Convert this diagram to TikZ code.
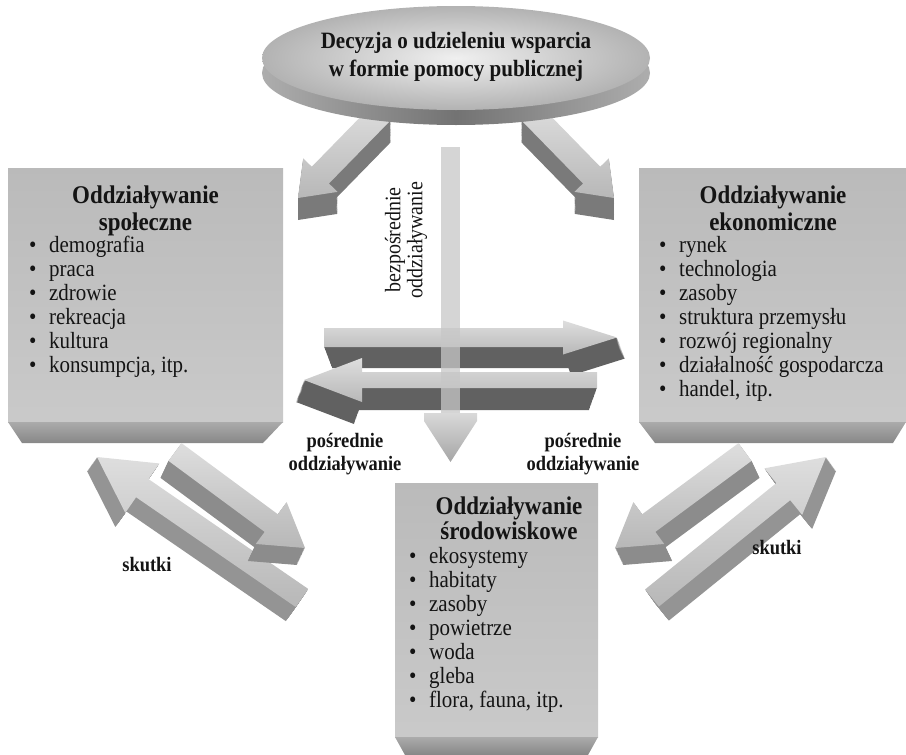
\documentclass[tikz,border=0pt]{standalone}
\usepackage{fontspec}
\setmainfont[FakeStretch=0.9]{Liberation Serif}
\usetikzlibrary{calc}
\definecolor{ink}{gray}{0.08}
\tikzset{
  ttl/.style={font=\fontsize{25.5}{30}\selectfont\bfseries, text=ink, inner sep=0pt, anchor=base},
  toptxt/.style={font=\fontsize{23.4}{29}\selectfont\bfseries, text=ink, inner sep=0pt, anchor=base},
  itm/.style={font=\fontsize{23.3}{26}\selectfont, text=ink, inner sep=0pt, anchor=base west},
  lbl/.style={font=\fontsize{20.5}{24}\selectfont\bfseries, text=ink, inner sep=0pt, anchor=base},
  face/.style={top color=black!27, middle color=black!9, bottom color=black!21},
  bevel/.style={top color=black!33, bottom color=black!47},
  atop/.style={top color=black!13, bottom color=black!28},
}
\newcommand{\bul}{\makebox[20pt][l]{•}}
% #1 name, #2 tail, #3 tip, #4 shaft half width, #5 head half width, #6 head length, #7 ex, #8 ey, #9 side colour
\newcommand{\blockarr}[9]{%
  \coordinate (#1T) at #2;
  \coordinate (#1P) at #3;
  \coordinate (#1H) at ($(#1P)!#6pt!(#1T)$);
  \coordinate (#1a) at ($(#1T)!#4pt!90:(#1P)$);
  \coordinate (#1b) at ($(#1H)!#4pt!90:(#1P)$);
  \coordinate (#1c) at ($(#1H)!#5pt!90:(#1P)$);
  \coordinate (#1d) at ($(#1H)!#5pt!-90:(#1P)$);
  \coordinate (#1e) at ($(#1H)!#4pt!-90:(#1P)$);
  \coordinate (#1f) at ($(#1T)!#4pt!-90:(#1P)$);
  \foreach \k in {1,...,20}{%
    \fill[#9] ($(#1a)+({#7*\k/20},{#8*\k/20})$) -- ($(#1b)+({#7*\k/20},{#8*\k/20})$)
      -- ($(#1c)+({#7*\k/20},{#8*\k/20})$) -- ($(#1P)+({#7*\k/20},{#8*\k/20})$)
      -- ($(#1d)+({#7*\k/20},{#8*\k/20})$) -- ($(#1e)+({#7*\k/20},{#8*\k/20})$)
      -- ($(#1f)+({#7*\k/20},{#8*\k/20})$) -- cycle;
  }%
  \shade[atop] (#1a) -- (#1b) -- (#1c) -- (#1P) -- (#1d) -- (#1e) -- (#1f) -- cycle;
}
\begin{document}
\begin{tikzpicture}[x=1pt,y=-1pt]
\useasboundingbox (0,0) rectangle (906,755);

% top diagonal arrows (under the ellipse)
\blockarr{tl}{(382,112)}{(298,198)}{12}{24}{32}{0}{22}{black!52}
\blockarr{tr}{(530,112)}{(614,198)}{12}{24}{32}{0}{22}{black!52}

% ellipse
\shade[left color=black!32, right color=black!32, middle color=black!55] (456,73) ellipse [x radius=194, y radius=52];
\shade[inner color=black!6, outer color=black!30] (456,58) ellipse [x radius=194, y radius=52];
\node[toptxt] (dec1) at (456,48) {Decyzja o udzieleniu wsparcia};
\node[toptxt] (dec2) at (456,76) {w formie pomocy publicznej};

% left box
\shade[face] (8,168) rectangle (283,422);
\shade[bevel] (8,422) -- (283,422) -- (263,443) -- (22,443) -- cycle;
\node[ttl] (st1) at (145.5,203) {Oddziaływanie};
\node[ttl] (st2) at (145.5,230) {społeczne};
\foreach \t [count=\i] in {demografia, praca, zdrowie, rekreacja, kultura, {konsumpcja, itp.}}
  \node[itm] (s\i) at (29,{252+24*(\i-1)}) {\bul\t};

% right box
\shade[face] (639,168) rectangle (906,422);
\shade[bevel] (639,422) -- (906,422) -- (893,443) -- (655,443) -- cycle;
\node[ttl] (et1) at (773,203) {Oddziaływanie};
\node[ttl] (et2) at (773,230) {ekonomiczne};
\foreach \t [count=\i] in {rynek, technologia, zasoby, struktura przemysłu, rozwój regionalny, działalność gospodarcza, {handel, itp.}}
  \node[itm] (e\i) at (659,{252+24*(\i-1)}) {\bul\t};

% bottom box
\shade[face] (395,483) rectangle (598,737);
\shade[bevel] (395,737) -- (598,737) -- (588,755) -- (405,755) -- cycle;
\node[ttl] (rt1) at (509,514) {Oddziaływanie};
\node[ttl] (rt2) at (509,539) {środowiskowe};
\foreach \t [count=\i] in {ekosystemy, habitaty, zasoby, powietrze, woda, gleba, {flora, fauna, itp.}}
  \node[itm] (r\i) at (409,{563+24*(\i-1)}) {\bul\t};

% horizontal arrows
\blockarr{hu}{(324,337.5)}{(617,337.5)}{9.5}{17}{54}{8}{21}{black!62}
\blockarr{hl}{(597,380)}{(304,380)}{8}{22}{58}{-8}{22}{black!62}

% vertical arrow
\coordinate (vtop) at (450.5,147);
\fill[black!22, opacity=0.75] (441,147) rectangle (460,413);
\shade[top color=black!15, bottom color=black!35] (424,413) -- (477,413) -- (477,421) -- (450.5,462) -- (424,421) -- cycle;
\coordinate (vtip) at (450.5,462);

% lower diagonal pairs
\blockarr{la}{(302,598)}{(97,457)}{11}{30}{55}{-10}{14}{black!42}
\blockarr{lb}{(175,452)}{(305,548)}{11}{26}{42}{-8}{17}{black!45}
\blockarr{rc}{(745,452)}{(615,548)}{11}{26}{42}{8}{17}{black!45}
\blockarr{rd}{(652,598)}{(826,457)}{11}{30}{55}{10}{14}{black!42}

% labels
\node[rotate=90, align=center, font=\fontsize{22.2}{22}\selectfont, text=ink, inner sep=0pt] (bez) at (406,240) {bezpośrednie\\oddziaływanie};
\node[lbl] (pl1) at (345,447) {pośrednie};
\node[lbl] (pl2) at (345,470) {oddziaływanie};
\node[lbl] (pr1) at (583,447) {pośrednie};
\node[lbl] (pr2) at (583,470) {oddziaływanie};
\node[lbl] (skl) at (147,571) {skutki};
\node[lbl] (skr) at (777,554) {skutki};
\end{tikzpicture}
\end{document}
